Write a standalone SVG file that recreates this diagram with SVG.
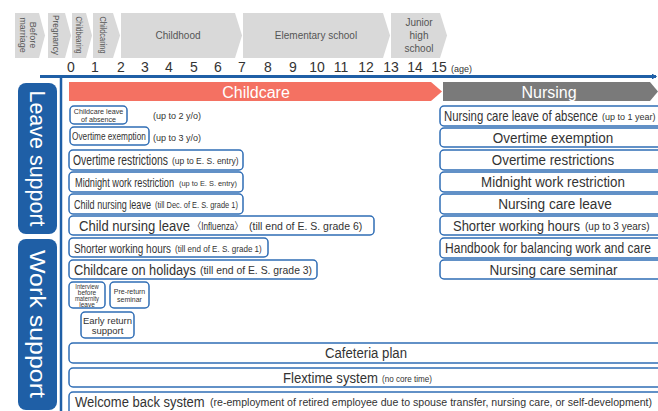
<svg xmlns="http://www.w3.org/2000/svg" width="658" height="411" viewBox="0 0 658 411">
<style>
text{font-family:"Liberation Sans","Noto Sans CJK JP",sans-serif;fill:#333}
.chev{fill:#d9d9d9}
.ht{font-size:10px;fill:#555}
.vt{font-size:9px;fill:#555}
.num{font-size:14px;fill:#333}
.box{fill:#fff;stroke:#2f6db5;stroke-width:1.5}
.lbl{fill:#1f5fa6}
.lt{fill:#fff;font-size:22px}
.m{font-size:14px}
.s{font-size:9px}
.c{text-anchor:middle}
</style>
<defs>
<marker id="ah" viewBox="0 0 10 10" refX="9" refY="5" markerWidth="5" markerHeight="5" orient="auto" markerUnits="userSpaceOnUse">
<path d="M0,0 L10,5 L0,10" fill="none" stroke="#1f5fa6" stroke-width="2"/>
</marker>
</defs>

<g id="stages">
<polygon class="chev" points="15,13 39,13 45,35.5 39,58 15,58"/>
<polygon class="chev" points="48,13 65,13 71,35.5 65,58 48,58"/>
<polygon class="chev" points="72,13 86,13 92,35.5 86,58 72,58"/>
<polygon class="chev" points="93,13 113,13 120,35.5 113,58 93,58"/>
<polygon class="chev" points="121,13 235,13 242,35.5 235,58 121,58"/>
<polygon class="chev" points="243,13 383,13 390,35.5 383,58 243,58"/>
<polygon class="chev" points="391,13 440,13 447,35.5 440,58 391,58"/>
<text class="vt c" transform="translate(33,35) rotate(90)" dominant-baseline="central">Before</text>
<text class="vt c" transform="translate(23,35) rotate(90)" dominant-baseline="central">marriage</text>
<text class="vt c" transform="translate(56,35) rotate(90)" dominant-baseline="central" textLength="40" lengthAdjust="spacingAndGlyphs">Pregnancy</text>
<text class="vt c" transform="translate(79,35) rotate(90)" dominant-baseline="central" textLength="37" lengthAdjust="spacingAndGlyphs">Childbearing</text>
<text class="vt c" transform="translate(103,35) rotate(90)" dominant-baseline="central" textLength="37" lengthAdjust="spacingAndGlyphs">Childcaring</text>
<text class="ht c" x="178" y="39">Childhood</text>
<text class="ht c" x="316" y="39">Elementary school</text>
<text class="ht c" x="419" y="26">Junior</text>
<text class="ht c" x="419" y="39">high</text>
<text class="ht c" x="419" y="52">school</text>
</g>

<g id="axis-labels">
<text class="num c" x="71" y="72">0</text>
<text class="num c" x="95" y="72">1</text>
<text class="num c" x="121" y="72">2</text>
<text class="num c" x="145" y="72">3</text>
<text class="num c" x="169" y="72">4</text>
<text class="num c" x="194" y="72">5</text>
<text class="num c" x="218" y="72">6</text>
<text class="num c" x="242" y="72">7</text>
<text class="num c" x="268" y="72">8</text>
<text class="num c" x="293" y="72">9</text>
<text class="num c" x="317" y="72">10</text>
<text class="num c" x="341" y="72">11</text>
<text class="num c" x="366" y="72">12</text>
<text class="num c" x="391" y="72">13</text>
<text class="num c" x="415" y="72">14</text>
<text class="num c" x="439" y="72">15</text>
<text x="451" y="72" style="font-size:9px">(age)</text>
</g>

<g id="connectors">
<line x1="40" y1="76.5" x2="656" y2="76.5" stroke="#1f5fa6" stroke-width="3" marker-end="url(#ah)"/>
<line x1="61" y1="76" x2="61" y2="411" stroke="#1f5fa6" stroke-width="2.5"/>
</g>

<g id="leave-support">
<rect class="lbl" x="18" y="83" width="39" height="151" rx="8"/>
<text class="lt c" transform="translate(37.5,158.5) rotate(90)" dominant-baseline="central" textLength="136" lengthAdjust="spacingAndGlyphs">Leave support</text>
</g>
<g id="work-support">
<rect class="lbl" x="18" y="239" width="39" height="171" rx="8"/>
<text class="lt c" transform="translate(37.5,324) rotate(90)" dominant-baseline="central" textLength="148" lengthAdjust="spacingAndGlyphs">Work support</text>
</g>

<g id="childcare-bar">
<polygon fill="#f47162" points="69,82 431,82 442,91.5 431,101 69,101"/>
<text class="c" x="256" y="97.5" style="font-size:16px;fill:#fff">Childcare</text>
</g>
<g id="nursing-bar">
<polygon fill="#7a7a7a" points="443,82 650,82 658,91.5 650,101 443,101"/>
<text class="c" x="549" y="97.5" style="font-size:16px;fill:#fff">Nursing</text>
</g>

<g id="cc-leave-absence">
<rect class="box" x="70" y="106" width="57" height="18" rx="4"/>
<text class="c" transform="translate(98.5,113.5) scale(0.9,1)" style="font-size:8px">Childcare leave</text>
<text class="c" transform="translate(98.5,121.5) scale(0.9,1)" style="font-size:8px">of absence</text>
<text x="153" y="119" class="s">(up to 2 y/o)</text>
</g>
<g id="cc-overtime-exemption">
<rect class="box" x="70" y="127" width="79" height="18" rx="4"/>
<text transform="translate(72,140) scale(0.827,1)" style="font-size:10px">Overtime exemption</text>
<text x="153" y="141" class="s">(up to 3 y/o)</text>
</g>
<g id="cc-overtime-restrictions">
<rect class="box" x="69" y="150" width="174" height="20" rx="4"/>
<text transform="translate(73,165) scale(0.74,1)" class="m">Overtime restrictions</text>
<text x="172" y="164" style="font-size:8.5px">(up to E. S. entry)</text>
</g>
<g id="cc-midnight">
<rect class="box" x="69" y="172" width="174" height="20" rx="4"/>
<text transform="translate(75,187) scale(0.707,1)" style="font-size:13px">Midnight work restriction</text>
<text transform="translate(179,186) scale(0.925,1)" style="font-size:8px">(up to E. S. entry)</text>
</g>
<g id="cc-child-nursing">
<rect class="box" x="69" y="194" width="174" height="20" rx="4"/>
<text transform="translate(74,209) scale(0.697,1)" style="font-size:13px">Child nursing leave</text>
<text transform="translate(155,208) scale(0.874,1)" style="font-size:8.5px">(till Dec. of E. S. grade 1)</text>
</g>
<g id="cc-child-nursing-flu">
<rect class="box" x="69" y="216" width="305" height="19" rx="4"/>
<text transform="translate(79,231) scale(0.871,1)" style="font-size:15px">Child nursing leave</text>
<text transform="translate(193,230) scale(0.82,1)" style="font-size:10px">〈Influenza〉</text>
<text transform="translate(249,230) scale(1.0,1)" style="font-size:10.5px">(till end of E. S. grade 6)</text>
</g>
<g id="cc-shorter-hours">
<rect class="box" x="69" y="238" width="199" height="19" rx="4"/>
<text transform="translate(74,252.5) scale(0.763,1)" style="font-size:13px">Shorter working hours</text>
<text transform="translate(175,251.5) scale(0.949,1)" style="font-size:8.5px">(till end of E. S. grade 1)</text>
</g>
<g id="cc-holidays">
<rect class="box" x="69" y="260" width="248" height="19" rx="4"/>
<text transform="translate(74,275) scale(0.851,1)" style="font-size:15px">Childcare on holidays</text>
<text transform="translate(200,274) scale(1.0,1)" style="font-size:10.4px">(till end of E. S. grade 3)</text>
</g>
<g id="interview">
<rect class="box" x="69" y="282" width="36" height="26" rx="4"/>
<text class="c" transform="translate(87,289) scale(0.9,1)" style="font-size:6.5px">Interview</text>
<text class="c" x="87" y="295" style="font-size:6.5px">before</text>
<text class="c" transform="translate(87,301) scale(0.9,1)" style="font-size:6.5px">maternity</text>
<text class="c" x="87" y="307" style="font-size:6.5px">leave</text>
</g>
<g id="pre-return">
<rect class="box" x="110" y="282" width="39" height="26" rx="4"/>
<text class="c" x="129.5" y="294" style="font-size:7px">Pre-return</text>
<text class="c" x="129.5" y="302" style="font-size:7px">seminar</text>
</g>
<g id="early-return">
<rect class="box" x="81" y="312" width="53" height="26" rx="4"/>
<text class="c" x="107.5" y="323.5" style="font-size:9.5px">Early return</text>
<text class="c" x="107.5" y="334" style="font-size:9.5px">support</text>
</g>

<g id="ns-leave-absence">
<rect class="box" x="440" y="106" width="240" height="20" rx="4"/>
<text transform="translate(444,121) scale(0.814,1)" class="m">Nursing care leave of absence</text>
<text x="602" y="120" class="s">(up to 1 year)</text>
</g>
<g id="ns-overtime-exemption">
<rect class="box" x="440" y="128" width="240" height="19" rx="4"/>
<text class="c" transform="translate(553,142.5) scale(0.9,1)" style="font-size:15px">Overtime exemption</text>
</g>
<g id="ns-overtime-restrictions">
<rect class="box" x="440" y="150" width="240" height="20" rx="4"/>
<text class="c" transform="translate(553,165) scale(0.89,1)" style="font-size:15px">Overtime restrictions</text>
</g>
<g id="ns-midnight">
<rect class="box" x="440" y="172" width="240" height="20" rx="4"/>
<text class="c" transform="translate(553,187) scale(0.89,1)" style="font-size:15px">Midnight work restriction</text>
</g>
<g id="ns-care-leave">
<rect class="box" x="440" y="194" width="240" height="20" rx="4"/>
<text class="c" transform="translate(555,209) scale(0.91,1)" style="font-size:15px">Nursing care leave</text>
</g>
<g id="ns-shorter-hours">
<rect class="box" x="440" y="216" width="240" height="19" rx="4"/>
<text transform="translate(453,231) scale(0.866,1)" style="font-size:15px">Shorter working hours</text>
<text x="585" y="230" style="font-size:10px">(up to 3 years)</text>
</g>
<g id="ns-handbook">
<rect class="box" x="440" y="238" width="240" height="20" rx="4"/>
<text transform="translate(445,253) scale(0.86,1)" class="m">Handbook for balancing work and care</text>
</g>
<g id="ns-seminar">
<rect class="box" x="440" y="260" width="240" height="19" rx="4"/>
<text class="c" transform="translate(553.5,275) scale(0.9,1)" style="font-size:15px">Nursing care seminar</text>
</g>

<g id="cafeteria">
<rect class="box" x="69" y="343" width="620" height="20" rx="4"/>
<text x="325" y="358" class="m" textLength="82" lengthAdjust="spacingAndGlyphs">Cafeteria plan</text>
</g>
<g id="flextime">
<rect class="box" x="69" y="368" width="620" height="19" rx="4"/>
<text transform="translate(283,382.5) scale(0.877,1)" style="font-size:15px">Flextime system</text>
<text transform="translate(382,381.5) scale(0.9,1)" class="s">(no core time)</text>
</g>
<g id="welcome-back">
<rect class="box" x="69" y="392" width="620" height="25" rx="4"/>
<text transform="translate(75,407) scale(0.867,1)" style="font-size:15px">Welcome back system</text>
<text x="210" y="406" style="font-size:10px" textLength="442" lengthAdjust="spacingAndGlyphs">(re-employment of retired employee due to spouse transfer, nursing care, or self-development)</text>
</g>
</svg>
